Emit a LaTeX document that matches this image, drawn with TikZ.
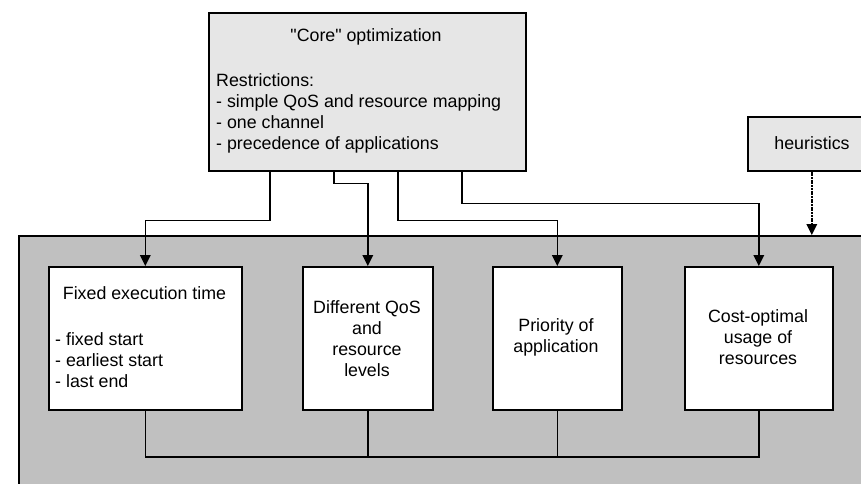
\documentclass[tikz,border=0pt]{standalone}
\usepackage{fontspec}
\setmainfont{Liberation Sans}[Ligatures=TeXOff]
\usetikzlibrary{arrows.meta}
\definecolor{lightbox}{HTML}{E6E6E6}
\definecolor{darkbox}{HTML}{C0C0C0}
\begin{document}
\begin{tikzpicture}[x=1pt,y=-1pt,
  box/.style={draw=black,line width=1.6pt,rectangle,inner sep=0pt,anchor=north west},
  txt/.style={inner sep=0pt,font=\fontsize{17.8}{21}\selectfont},
  conn/.style={draw=black,line width=1.6pt},
  arr/.style={conn,-{Triangle[length=11pt,width=10.5pt]}},
  dotarr/.style={arr,dash pattern=on 2pt off 0.7pt}]
\useasboundingbox (0,0) rectangle (861,483);
% outer gray area
\node[box,fill=darkbox,minimum width=880pt,minimum height=280pt] (gray) at (18,235) {};
% core box
\node[box,fill=lightbox,minimum width=317pt,minimum height=158pt] (core) at (208,12) {};
\node[txt] (coretitle) at (366,37) {"Core" optimization};
\node[txt,align=left,anchor=west] (corelist) at (216,113.5) {Restrictions:\\- simple QoS and resource mapping\\- one channel\\- precedence of applications};
% heuristics
\node[box,fill=lightbox,minimum width=128pt,minimum height=54pt] (heur) at (747,116) {};
\node[txt] (heurtext) at (812,143) {heuristics};
% inner boxes
\node[box,fill=white,minimum width=193pt,minimum height=143pt] (b1) at (48,266) {};
\node[box,fill=white,minimum width=130pt,minimum height=143pt] (b2) at (302,266) {};
\node[box,fill=white,minimum width=129pt,minimum height=143pt] (b3) at (492,266) {};
\node[box,fill=white,minimum width=148pt,minimum height=143pt] (b4) at (684,266) {};
\node[txt] (b1title) at (144.5,293) {Fixed execution time};
\node[txt,align=left,anchor=west] (b1list) at (55,360) {- fixed start\\- earliest start\\- last end};
\node[txt,align=center] (b2text) at (367,338.5) {Different QoS\\and\\resource\\levels};
\node[txt,align=center] (b3text) at (556,337) {Priority of\\application};
\node[txt,align=center] (b4text) at (758,337) {Cost-optimal\\usage of\\resources};
% connectors from core
\draw[arr] (core.south west) ++(62,0) -- ++(0,49) -| (b1.north);
\draw[arr] (core.south west) ++(126,0) -- ++(0,12) -| (b2.north);
\draw[arr] (core.south west) ++(190,0) -- ++(0,49) -| (b3.north);
\draw[arr] (core.south west) ++(254,0) -- ++(0,32) -| (b4.north);
% heuristics arrow
\draw[dotarr] (heur.south) -- (heur.south |- gray.north);
% bottom bus
\coordinate (bus) at (0,457);
\draw[conn] (b1.south) |- (b4.south |- bus) -- (b4.south);
\draw[conn] (b2.south) -- (b2.south |- bus);
\draw[conn] (b3.south) -- (b3.south |- bus);
\end{tikzpicture}
\end{document}
